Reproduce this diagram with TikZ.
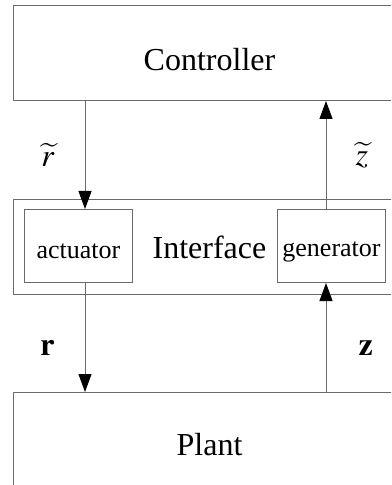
\documentclass[tikz,border=0pt]{standalone}
\usepackage{mathptmx}
\usepackage{fontspec}
\setmainfont{Liberation Serif}
\usetikzlibrary{positioning}
\usetikzlibrary{arrows.meta}
\definecolor{wire}{HTML}{6A6A6A}
\tikzset{
  % Big blocks of the loop: controller / interface / plant
  block/.style={
    draw=wire, line width=0.5pt, rectangle, minimum width=196pt,
    font=\fontsize{16}{19}\selectfont},
  % Small boxes sitting inside the interface
  subbox/.style={
    draw=wire, line width=0.5pt, rectangle, minimum width=54pt,
    minimum height=36.5pt, font=\fontsize{13}{15}\selectfont},
  % Signals
  sig/.style={draw=wire, line width=0.5pt,
    -{Triangle[length=9pt, width=6.5pt, color=black]}},
  sym/.style={font=\fontsize{16}{19}\selectfont, inner sep=0pt},
}

\begin{document}
\begin{tikzpicture}

\useasboundingbox (0,0) rectangle (195.5pt,-242.5pt);
\clip (0,0) rectangle (195.5pt,-242.5pt);

\node[block, minimum height=47.5pt, anchor=north west,
      label={[font=\fontsize{16}{19}\selectfont, yshift=-3.25pt]center:Controller}]
  (ctrl) at (6.5pt,-2.5pt) {};

\node[block, minimum height=47.5pt, below=49pt of ctrl] (iface) {Interface};

\node[subbox, below right=5pt and 5.5pt of iface.north west,
      label={[font=\fontsize{13}{15}\selectfont, yshift=-2.5pt]center:actuator}]
  (act) {};
\node[subbox, right=72pt of act,
      label={[font=\fontsize{13}{15}\selectfont, yshift=-2.75pt]center:generator}]
  (gen) {};

\node[block, minimum height=52pt, below=48.5pt of iface] (plant) {Plant};

% controller <-> interface
\draw[sig] ([xshift=3.25pt]act.north |- ctrl.south)
  -- node[sym, midway, left=15pt] {$\widetilde{r}$} ([xshift=3.25pt]act.north);
\draw[sig] ([xshift=-2.75pt]gen.north)
  -- node[sym, midway, right=14.5pt] {$\widetilde{z}$} ([xshift=-2.75pt]gen.north |- ctrl.south);

% interface <-> plant
\draw[sig] ([xshift=3.25pt]act.south)
  -- node[sym, pos=0.6, left=15pt] {$\mathbf{r}$} ([xshift=3.25pt]act.south |- plant.north);
\draw[sig] ([xshift=-2.75pt]gen.south |- plant.north)
  -- node[sym, pos=0.4, right=16pt] {$\mathbf{z}$} ([xshift=-2.75pt]gen.south);

\end{tikzpicture}
\end{document}
